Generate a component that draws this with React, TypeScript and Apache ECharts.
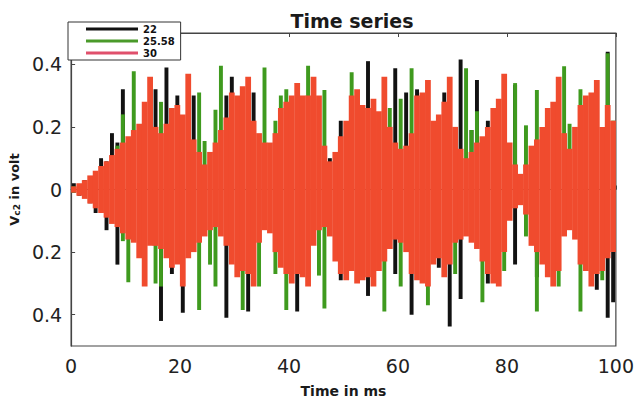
import React, { useEffect, useRef } from "react";
import * as echarts from "echarts";

// Peak values, one positive and one negative peak per millisecond (t = 0..99 ms)
const seriesNames = ["22", "25.58", "30"];

const black22Up = [
  0.02, 0.015, 0.03, 0.03, 0.055, 0.1, 0.09, 0.18, 0.15, 0.32,
  0.15, 0.16, 0.18, 0.2, 0.2, 0.32, 0.18, 0.39, 0.2, 0.3,
  0.2, 0.18, 0.3, 0.1, 0.06, 0.1, 0.12, 0.15, 0.3, 0.36,
  0.24, 0.29, 0.25, 0.31, 0.15, 0.12, 0.12, 0.14, 0.2, 0.22,
  0.24, 0.29, 0.24, 0.24, 0.25, 0.2, 0.11, 0.1, 0.1, 0.22,
  0.18, 0.24, 0.26, 0.22, 0.41, 0.24, 0.2, 0.28, 0.16, 0.387,
  0.11, 0.31, 0.15, 0.32, 0.25, 0.28, 0.18, 0.18, 0.31, 0.3,
  0.16, 0.415, 0.08, 0.19, 0.35, 0.15, 0.22, 0.2, 0.23, 0.28,
  0.12, 0.334, 0.04, 0.06, 0.11, 0.13, 0.16, 0.2, 0.22, 0.28,
  0.14, 0.1, 0.16, 0.22, 0.24, 0.25, 0.28, 0.16, 0.44, 0.2,
];
const black22Down = [
  -0.01, -0.02, -0.025, -0.044, -0.075, -0.07, -0.13, -0.1, -0.24, -0.12,
  -0.13, -0.14, -0.18, -0.25, -0.15, -0.15, -0.42, -0.18, -0.27, -0.2,
  -0.394, -0.18, -0.16, -0.14, -0.12, -0.1, -0.1, -0.12, -0.41, -0.2,
  -0.24, -0.22, -0.39, -0.25, -0.14, -0.1, -0.11, -0.16, -0.2, -0.22,
  -0.25, -0.39, -0.23, -0.25, -0.15, -0.1, -0.1, -0.12, -0.19, -0.29,
  -0.24, -0.22, -0.25, -0.24, -0.34, -0.26, -0.22, -0.19, -0.16, -0.27,
  -0.14, -0.17, -0.4, -0.24, -0.26, -0.26, -0.2, -0.25, -0.24, -0.438,
  -0.14, -0.35, -0.12, -0.14, -0.16, -0.19, -0.3, -0.25, -0.26, -0.17,
  -0.08, -0.24, -0.04, -0.06, -0.15, -0.28, -0.2, -0.24, -0.26, -0.22,
  -0.12, -0.1, -0.13, -0.2, -0.22, -0.26, -0.32, -0.22, -0.41, -0.36,
];

const green2558Up = [
  0.01, 0.015, 0.025, 0.035, 0.045, 0.06, 0.075, 0.09, 0.14, 0.24,
  0.15, 0.378, 0.17, 0.2, 0.26, 0.17, 0.28, 0.17, 0.26, 0.22,
  0.2, 0.18, 0.12, 0.31, 0.155, 0.1, 0.255, 0.395, 0.2, 0.25,
  0.25, 0.3, 0.27, 0.18, 0.14, 0.39, 0.12, 0.22, 0.3, 0.32,
  0.26, 0.28, 0.25, 0.395, 0.3, 0.22, 0.318, 0.08, 0.1, 0.15,
  0.2, 0.375, 0.28, 0.22, 0.24, 0.25, 0.22, 0.32, 0.26, 0.12,
  0.29, 0.12, 0.387, 0.25, 0.26, 0.3, 0.18, 0.2, 0.24, 0.3,
  0.17, 0.1, 0.387, 0.19, 0.25, 0.14, 0.17, 0.22, 0.24, 0.3,
  0.12, 0.34, 0.04, 0.205, 0.12, 0.318, 0.17, 0.22, 0.24, 0.3,
  0.394, 0.21, 0.17, 0.32, 0.25, 0.26, 0.3, 0.17, 0.435, 0.22,
];
const green2558Down = [
  -0.01, -0.015, -0.025, -0.035, -0.05, -0.065, -0.08, -0.1, -0.11, -0.165,
  -0.296, -0.15, -0.18, -0.26, -0.16, -0.3, -0.31, -0.18, -0.2, -0.2,
  -0.26, -0.18, -0.17, -0.385, -0.13, -0.24, -0.31, -0.13, -0.16, -0.2,
  -0.24, -0.385, -0.24, -0.26, -0.31, -0.11, -0.12, -0.27, -0.22, -0.385,
  -0.26, -0.23, -0.24, -0.26, -0.16, -0.275, -0.38, -0.13, -0.2, -0.24,
  -0.26, -0.23, -0.26, -0.25, -0.24, -0.27, -0.23, -0.39, -0.17, -0.14,
  -0.31, -0.18, -0.24, -0.25, -0.27, -0.37, -0.21, -0.19, -0.25, -0.21,
  -0.27, -0.14, -0.13, -0.15, -0.17, -0.36, -0.24, -0.26, -0.27, -0.26,
  -0.08, -0.05, -0.04, -0.15, -0.16, -0.39, -0.21, -0.25, -0.27, -0.31,
  -0.13, -0.11, -0.14, -0.39, -0.23, -0.27, -0.24, -0.29, -0.19, -0.18,
];

const red30Up = [
  0.01, 0.02, 0.03, 0.045, 0.06, 0.075, 0.09, 0.11, 0.13, 0.15,
  0.17, 0.19, 0.21, 0.28, 0.36, 0.2, 0.18, 0.21, 0.26, 0.27,
  0.24, 0.37, 0.16, 0.12, 0.08, 0.12, 0.15, 0.19, 0.23, 0.31,
  0.3, 0.33, 0.36, 0.22, 0.18, 0.15, 0.15, 0.18, 0.26, 0.28,
  0.3, 0.34, 0.3, 0.3, 0.36, 0.3, 0.14, 0.09, 0.12, 0.17,
  0.22, 0.3, 0.32, 0.27, 0.26, 0.29, 0.25, 0.36, 0.2, 0.15,
  0.13, 0.14, 0.18, 0.3, 0.31, 0.35, 0.22, 0.24, 0.28, 0.36,
  0.2, 0.13, 0.1, 0.12, 0.15, 0.17, 0.2, 0.26, 0.29, 0.37,
  0.15, 0.08, 0.05, 0.08, 0.14, 0.16, 0.2, 0.26, 0.28, 0.36,
  0.18, 0.13, 0.2, 0.27, 0.3, 0.31, 0.35, 0.2, 0.27, 0.22,
];
const red30Down = [
  -0.01, -0.02, -0.03, -0.045, -0.06, -0.075, -0.09, -0.11, -0.12, -0.14,
  -0.16, -0.17, -0.22, -0.31, -0.18, -0.18, -0.19, -0.22, -0.25, -0.24,
  -0.31, -0.22, -0.2, -0.17, -0.15, -0.13, -0.12, -0.15, -0.18, -0.24,
  -0.28, -0.26, -0.27, -0.31, -0.17, -0.13, -0.14, -0.2, -0.25, -0.27,
  -0.3, -0.27, -0.28, -0.31, -0.18, -0.13, -0.12, -0.15, -0.23, -0.27,
  -0.29, -0.26, -0.3, -0.29, -0.28, -0.31, -0.26, -0.23, -0.19, -0.16,
  -0.17, -0.2, -0.27, -0.29, -0.3, -0.31, -0.24, -0.22, -0.28, -0.24,
  -0.17, -0.16, -0.15, -0.17, -0.19, -0.23, -0.27, -0.3, -0.31, -0.2,
  -0.1, -0.06, -0.05, -0.08, -0.18, -0.2, -0.24, -0.28, -0.31, -0.26,
  -0.15, -0.13, -0.16, -0.24, -0.26, -0.31, -0.27, -0.26, -0.22, -0.2,
];

const xTicks = [0, 20, 40, 60, 80, 100];
const yTicks = [-0.4, -0.2, 0, 0.2, 0.4];

const colors = ["#121212", "#3f9a1e", "#f04b2e"];
const legendColors = ["#111111", "#4a9a2a", "#e0506c"];
// fraction of one millisecond covered by a series' swing bar
const barFill = [0.72, 0.72, 1.06];

// Each millisecond: the signal swings between its negative and positive peak.
function buildSwings(up: number[], down: number[]): number[][] {
  return up.map((u, i) => [i + 0.5, down[i], u]);
}

export default function App() {
  const ref = useRef<HTMLDivElement>(null);
  useEffect(() => {
    if (!ref.current) return;
    const chart = echarts.init(ref.current, null, { renderer: "svg" });
    const swings = [
      buildSwings(black22Up, black22Down),
      buildSwings(green2558Up, green2558Down),
      buildSwings(red30Up, red30Down),
    ];
    const font = "DejaVu Sans";
    chart.setOption({
      animation: false,
      backgroundColor: "#ffffff",
      title: {
        text: "Time series",
        left: 347,
        textAlign: "center",
        top: 6,
        textStyle: { fontFamily: font, fontSize: 19, fontWeight: "bold", color: "#1a1a1a" },
      },
      legend: {
        orient: "vertical",
        left: 68,
        top: 22,
        backgroundColor: "#ffffff",
        borderColor: "#333",
        borderWidth: 1,
        borderRadius: 0,
        padding: [1, 6, 1, 18],
        itemGap: 0,
        itemWidth: 52,
        itemHeight: 3,
        icon: "rect",
        textStyle: { fontFamily: font, fontSize: 10, fontWeight: "bold", color: "#111", lineHeight: 12 },
        data: seriesNames.map((n, i) => ({ name: n, itemStyle: { color: legendColors[i] } })),
        z: 10,
      },
      grid: {
        left: 67,
        right: 15,
        top: 33,
        bottom: 56,
        show: true,
        borderColor: "#444",
        borderWidth: 1.2,
        backgroundColor: "transparent",
      },
      xAxis: [
        {
          type: "value",
          min: xTicks[0],
          max: xTicks[xTicks.length - 1],
          interval: xTicks[1] - xTicks[0],
          name: "Time in ms",
          nameLocation: "middle",
          nameGap: 38,
          nameTextStyle: { fontFamily: font, fontSize: 14, fontWeight: "bold", color: "#1a1a1a" },
          axisLine: { show: true, lineStyle: { color: "#444", width: 1.2 } },
          axisTick: { show: true, inside: true, length: 4, lineStyle: { color: "#444" } },
          axisLabel: { fontFamily: font, fontSize: 19, color: "#222", margin: 10 },
          splitLine: { show: false },
        },
        {
          type: "value",
          position: "top",
          min: xTicks[0],
          max: xTicks[xTicks.length - 1],
          interval: xTicks[1] - xTicks[0],
          axisLine: { show: true, lineStyle: { color: "#444", width: 1.2 } },
          axisTick: { show: true, inside: true, length: 4, lineStyle: { color: "#444" } },
          axisLabel: { show: false },
          splitLine: { show: false },
        },
      ],
      yAxis: {
        type: "value",
        min: -0.5,
        max: 0.5,
        name: "{v|V}{s|c2}{v| in volt}",
        nameLocation: "middle",
        nameRotate: 90,
        nameGap: 46,
        nameTextStyle: {
          rich: {
            v: { fontFamily: font, fontSize: 13, fontWeight: "bold", color: "#1a1a1a", verticalAlign: "bottom", lineHeight: 16 },
            s: { fontFamily: font, fontSize: 9, fontWeight: "bold", color: "#1a1a1a", verticalAlign: "bottom", lineHeight: 12 },
          },
        },
        axisLine: { show: true, lineStyle: { color: "#444", width: 1.2 } },
        axisTick: { show: true, inside: true, length: 4, customValues: yTicks, lineStyle: { color: "#444" } },
        axisLabel: {
          fontFamily: font,
          fontSize: 19,
          color: "#222",
          margin: 9,
          customValues: yTicks,
          formatter: (v: number) => (Math.abs(v) < 1e-9 ? "0" : Math.abs(v).toFixed(1)),
        },
        splitLine: { show: false },
      },
      series: seriesNames.map((n, si) => ({
        name: n,
        type: "custom",
        xAxisIndex: 0,
        yAxisIndex: 0,
        color: colors[si],
        z: 2 + si,
        encode: { x: 0, y: [1, 2] },
        data: swings[si],
        renderItem: (params: any, api: any) => {
          const t = api.value(0);
          const lo = api.coord([t, api.value(1)]);
          const hi = api.coord([t, api.value(2)]);
          const w = api.size([1, 0])[0] * barFill[si];
          const rect = echarts.graphic.clipRectByRect(
            { x: lo[0] - w / 2, y: hi[1], width: w, height: lo[1] - hi[1] },
            {
              x: params.coordSys.x,
              y: params.coordSys.y,
              width: params.coordSys.width,
              height: params.coordSys.height,
            }
          );
          if (!rect) return null;
          return {
            type: "rect",
            shape: rect,
            style: { fill: colors[si] },
          };
        },
      })),
    });
    return () => chart.dispose();
  }, []);
  return (
    <div
      ref={ref}
      style={{ position: "fixed", left: 0, top: 0, width: 637, height: 403, background: "#fff" }}
    />
  );
}
